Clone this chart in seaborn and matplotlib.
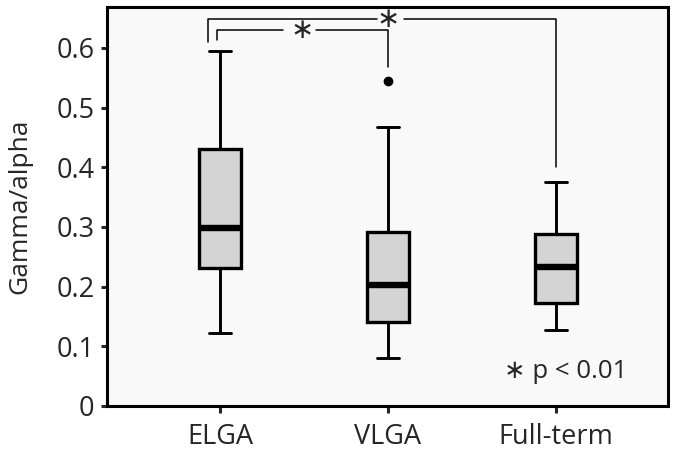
import numpy as np
import pandas as pd
import seaborn as sns
import matplotlib.pyplot as plt

groups = ["ELGA", "VLGA", "Full-term"]
lower_whisker = [0.122, 0.081, 0.127]
q1 = [0.232, 0.141, 0.172]
median = [0.299, 0.202, 0.233]
q3 = [0.430, 0.292, 0.288]
upper_whisker = [0.595, 0.467, 0.375]
outlier_group = ["VLGA"]
outlier_value = [0.545]
y_ticks = [0, 0.1, 0.2, 0.3, 0.4, 0.5, 0.6]
y_tick_labels = ["0", "0.1", "0.2", "0.3", "0.4", "0.5", "0.6"]

# five-number summaries -> long table (5 points give exact quartiles)
rows = []
for i, g in enumerate(groups):
    for v in (lower_whisker[i], q1[i], median[i], q3[i], upper_whisker[i]):
        rows.append({"group": g, "value": v})
df = pd.DataFrame(rows)

sns.set_style("ticks")
plt.rcParams["font.family"] = ["Open Sans", "DejaVu Sans"]

fig = plt.figure(figsize=(6.75, 4.53), dpi=100)
ax = fig.add_axes([0.1585, 0.1038, 0.8311, 0.8800])
ax.set_facecolor("#f9f9f9")

sns.boxplot(data=df, x="group", y="value", order=groups, ax=ax,
            width=0.254, color="#d4d4d4", saturation=1, linecolor="black",
            linewidth=2.4, whis=(0, 100), showfliers=False,
            medianprops=dict(linewidth=4.6, color="black"),
            whiskerprops=dict(linewidth=2.1),
            capprops=dict(linewidth=2.1))
sns.stripplot(x=outlier_group, y=outlier_value, order=groups, ax=ax,
              jitter=False, color="black", size=7)

ax.set_xlim(-0.673, 2.667)
ax.set_ylim(0, 0.668)
ax.set_yticks(y_ticks)
ax.set_yticklabels(y_tick_labels)
ax.set_xlabel("")
ax.set_ylabel("Gamma/alpha", fontsize=19, labelpad=17)
ax.tick_params(axis="y", labelsize=19.5, length=4, width=2.2, pad=5)
ax.tick_params(axis="x", labelsize=19.5, length=5, width=2.2, pad=7)
for s in ax.spines.values():
    s.set_visible(True)
    s.set_linewidth(2.2)
    s.set_color("black")

# significance brackets
lw = 1.1
ax.plot([-0.071, -0.071, 0.937], [0.610, 0.649, 0.649], color="black", lw=lw)
ax.plot([1.095, 2.0, 2.0], [0.649, 0.649, 0.401], color="black", lw=lw)
ax.text(1.0, 0.649, "∗", ha="center", va="center", fontsize=20,
        family=["DejaVu Sans"])
ax.plot([-0.018, -0.018, 0.375], [0.613, 0.630, 0.630], color="black", lw=lw)
ax.plot([0.571, 1.0, 1.0], [0.630, 0.630, 0.568], color="black", lw=lw)
ax.text(0.488, 0.630, "∗", ha="center", va="center", fontsize=20,
        family=["DejaVu Sans"])

ax.text(1.69, 0.047, "∗ p < 0.01", ha="left", va="baseline", fontsize=18.5,
        family=["Open Sans", "DejaVu Sans"])

fig.savefig("out.png", dpi=100, facecolor="white")
